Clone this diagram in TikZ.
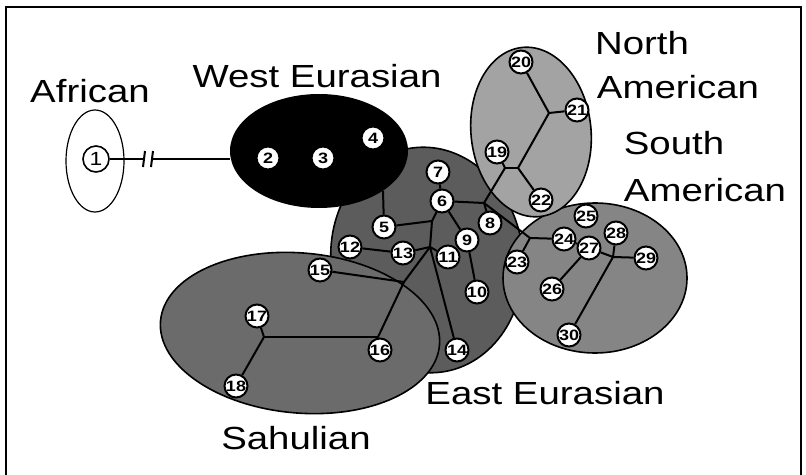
\documentclass[tikz,border=0pt]{standalone}
\usepackage{fontspec}
\setmainfont{Liberation Sans}[FakeStretch=1.2]
\pgfdeclarelayer{regions}
\pgfdeclarelayer{links}
\pgfsetlayers{regions,links,main}
\definecolor{eastgray}{gray}{0.36}
\definecolor{sahulgray}{gray}{0.42}
\definecolor{southgray}{gray}{0.52}
\definecolor{northgray}{gray}{0.64}

\begin{document}
\begin{tikzpicture}[x=0.5pt,y=-0.5pt,
  hap/.style={circle,draw,line width=1pt,fill=white,inner sep=0pt,
    minimum size=11.5pt,font=\bfseries\fontsize{7.5}{7.5}\selectfont},
  link/.style={line width=1pt},
  rim/.style={line width=0.8pt},
  group/.style={font=\fontsize{16}{16}\selectfont}]
\useasboundingbox (0,0) rectangle (806,475);
\draw[line width=0.8pt] (6,475) -- (6,7) -- (801,7) -- (801,475);

% population groups
\begin{pgfonlayer}{regions}
\filldraw[rim,fill=eastgray,rotate around={7:(427,260)}] (427,260) ellipse [x radius=96,y radius=113];
\filldraw[rim,fill=sahulgray,rotate around={-5:(300,333)}] (300,333) ellipse [x radius=140,y radius=80];
\filldraw[rim,fill=southgray] (595,278) ellipse [x radius=92,y radius=75];
\filldraw[rim,fill=northgray,rotate around={6:(531,132)}] (531,132) ellipse [x radius=60,y radius=85];
\fill (319,151) ellipse [x radius=89,y radius=57];
\draw[line width=0.6pt] (95,161) ellipse [x radius=29,y radius=51];
\end{pgfonlayer}

\node[group] (african) at (90,91) {African};
\node[group] (westeur) at (317,76) {West Eurasian};
\node[group] (north) at (642,43) {North};
\node[group] (northam) at (678,87) {American};
\node[group] (south) at (674,143) {South};
\node[group] (southam) at (705,190) {American};
\node[group] (easteur) at (545,393) {East Eurasian};
\node[group] (sahul) at (296,438) {Sahulian};

% haplogroups
\node[circle,draw,line width=0.8pt,fill=white,inner sep=0pt,minimum size=13pt,
  font=\fontsize{9.5}{9.5}\selectfont] (n1) at (96,159) {1};
\foreach \n/\x/\y in {2/268/158,3/323/158,4/373/138,5/384/227,6/442/201,
  7/438/172,8/490/223,9/467/240,10/477/292,11/448/257,12/350/247,13/403/253,
  14/457/350,15/320/270,16/380/350,17/257/316,18/236/386,19/497/152,20/521/62,
  21/577/110,22/541/200,23/517/262,24/564/239,25/586/216,26/552/289,27/589/248,
  28/616/233,29/646/258,30/569/335}
  \node[hap] (n\n) at (\x,\y) {\n};

% junctions
\coordinate (brka) at (144,159);
\coordinate (brkb) at (152,159);
\coordinate (weedge) at (230,159);
\coordinate (werim) at (383,191);
\coordinate (jc) at (432,221);
\coordinate (jm) at (430,247);
\coordinate (js) at (404,282);
\coordinate (jr) at (378,337);
\coordinate (jsah) at (264,337);
\coordinate (ja) at (484,203);
\coordinate (jna1) at (549,113);
\coordinate (jna2) at (518,168);
\coordinate (jna3) at (505,168);
\coordinate (jsa1) at (530,238);
\coordinate (jsa2) at (613,257);

\begin{pgfonlayer}{links}
\draw[link] (n1) -- (brka);
\draw[link] (brkb) -- (weedge);
\draw[link] (brka) ++(-1,8) -- ++(2,-16);
\draw[link] (brkb) ++(-1,8) -- ++(2,-16);
\foreach \a/\b in {werim/n5,n5/jc,n6/jc,n7/n6,jc/jm,n12/n13,n13/jm,jm/n11,
  jm/js,jm/n14,js/n15,js/jr,jr/n16,jr/jsah,jsah/n17,jsah/n18,n6/n9,n9/n10,
  n6/ja,ja/n8,ja/jsa1,ja/jna3,jna3/n19,jna3/jna2,jna2/n22,jna2/jna1,
  jna1/n20,jna1/n21,jsa1/n23,jsa1/n24,n24/n27,n27/n26,n27/jsa2,n28/jsa2,
  jsa2/n29,jsa2/n30}
  \draw[link] (\a) -- (\b);
\end{pgfonlayer}
\end{tikzpicture}
\end{document}
